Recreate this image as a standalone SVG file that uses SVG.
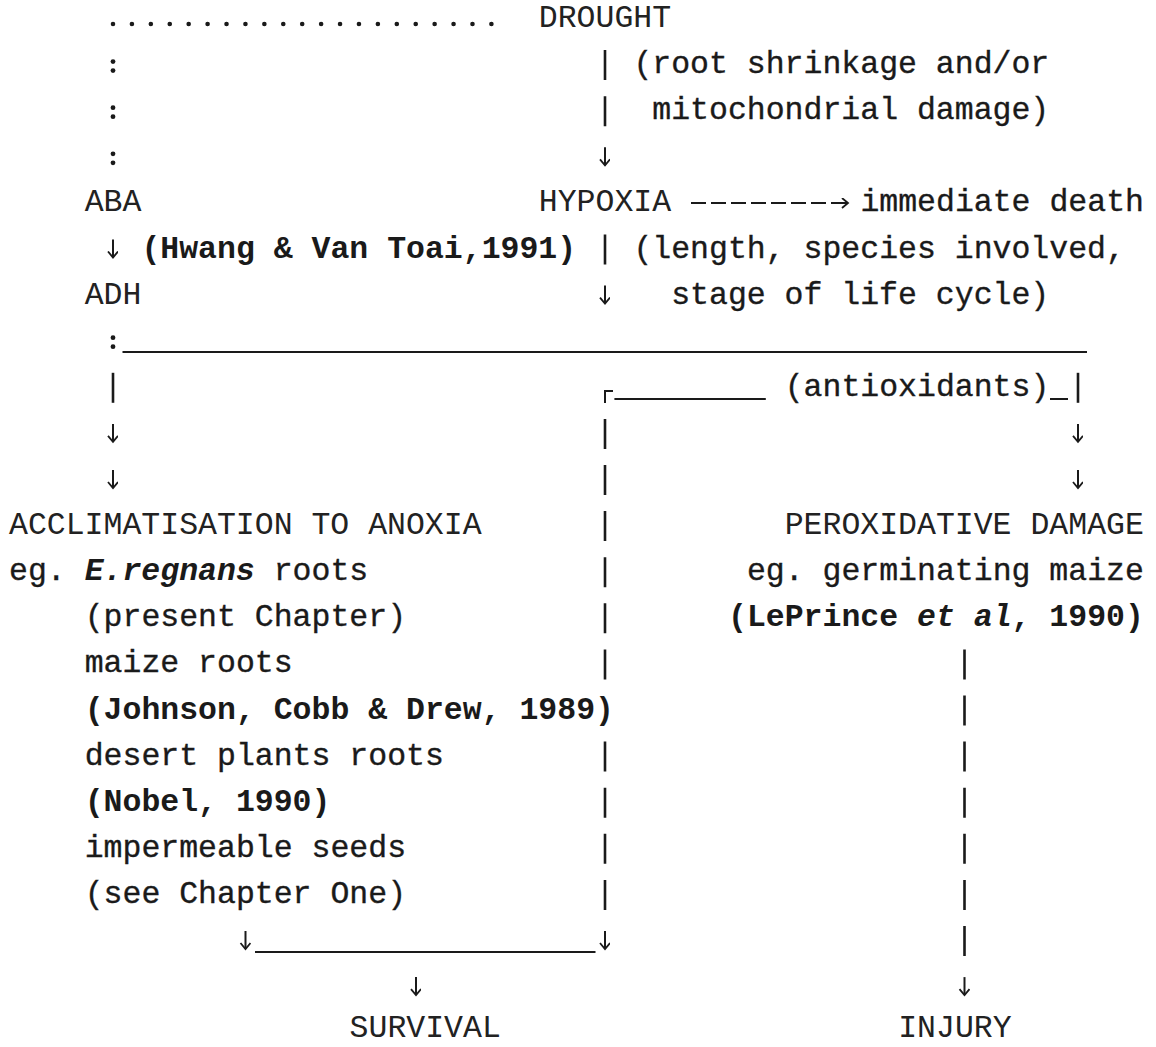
<svg xmlns="http://www.w3.org/2000/svg" width="1156" height="1047" viewBox="0 0 1156 1047">
<style>
.t{font-family:"Liberation Mono","Courier New",monospace;font-size:31.5px;fill:#1a1a1a;stroke:#1a1a1a;stroke-width:0.35;}
.cap{fill:#222;stroke-width:0;}
.b{font-weight:bold;stroke-width:0;}
.bi{font-weight:bold;font-style:italic;}
.bar{stroke:#1a1a1a;stroke-width:2.6;fill:none;}
.ln{stroke:#1a1a1a;stroke-width:2;fill:none;}
.arr{stroke:#1a1a1a;stroke-width:2;fill:none;marker-end:url(#ah);}
.dot{fill:#1a1a1a;}
</style>
<defs>
<marker id="ah" markerWidth="12" markerHeight="12" refX="7" refY="5" orient="auto" markerUnits="userSpaceOnUse">
<path d="M1,0 L7,5 L1,10" fill="none" stroke="#1a1a1a" stroke-width="1.8"/>
</marker>
</defs>
<rect width="1156" height="1047" fill="#ffffff"/>

<g id="connectors">
  <!-- dotted line from DROUGHT to ABA / ADH -->
  <line x1="113" y1="24" x2="491.5" y2="24" stroke="#1a1a1a" stroke-width="4.6" stroke-linecap="round" stroke-dasharray="0 18.92"/>
  <g class="dot">
    <circle cx="113" cy="61.6" r="2.4"/><circle cx="113" cy="70.6" r="2.4"/>
    <circle cx="113" cy="107.7" r="2.4"/><circle cx="113" cy="116.7" r="2.4"/>
    <circle cx="113" cy="153.8" r="2.4"/><circle cx="113" cy="162.8" r="2.4"/>
    <circle cx="113" cy="337.7" r="2.4"/><circle cx="113" cy="346.7" r="2.4"/>
  </g>
  <!-- central vertical (col 31) -->
  <path class="bar" d="M605,50.1V80.1 M605,96.2V126.2 M605,234.5V264.5"/>
  <path class="arr" d="M605,147.3V165.3"/>
  <path class="arr" d="M605,285.6V303.6"/>
  <!-- HYPOXIA to immediate death -->
  <line class="ln" x1="691" y1="203" x2="842" y2="203" stroke-dasharray="15 5"/>
  <path class="arr" d="M836,203H848"/>
  <!-- ABA to ADH -->
  <path class="arr" d="M113,239.5V257.5"/>
  <!-- long horizontal split line -->
  <line class="ln" x1="122.5" y1="352" x2="1087" y2="352"/>
  <!-- left branch -->
  <path class="bar" d="M113,372.8V402.8"/>
  <path class="arr" d="M113,423.9V441.9"/>
  <path class="arr" d="M113,470V488"/>
  <!-- antioxidants branch -->
  <path class="ln" d="M605,403V391H613"/>
  <line class="ln" x1="614.4" y1="399" x2="765.8" y2="399"/>
  <line class="ln" x1="1050" y1="399" x2="1068" y2="399"/>
  <path class="bar" d="M1078,372.8V402.8"/>
  <path class="arr" d="M1078,423.9V441.9"/>
  <path class="arr" d="M1078,470V488"/>
  <!-- middle vertical down to survival -->
  <path class="bar" d="M605,418.9V448.9 M605,465V495 M605,511.1V541.1 M605,557.2V587.2 M605,603.3V633.3 M605,649.4V679.4 M605,741.6V771.6 M605,787.7V817.7 M605,833.8V863.8 M605,879.9V909.9"/>
  <path class="arr" d="M605,931V949"/>
  <path class="arr" d="M245.5,931V949"/>
  <line class="ln" x1="255" y1="952" x2="595.5" y2="952"/>
  <path class="arr" d="M416,977.1V995.1"/>
  <!-- right vertical down to injury -->
  <path class="bar" d="M964.5,649.4V679.4 M964.5,695.5V725.5 M964.5,741.6V771.6 M964.5,787.7V817.7 M964.5,833.8V863.8 M964.5,879.9V909.9 M964.5,926V956"/>
  <path class="arr" d="M964.5,977.1V995.1"/>
</g>

<g id="drought"><text class="t cap" x="538.8" y="27">DROUGHT</text></g>
<g id="drought-note">
  <text class="t" x="633.4" y="73.1">(root shrinkage and/or</text>
  <text class="t" x="652.3" y="119.2">mitochondrial damage)</text>
</g>
<g id="aba"><text class="t cap" x="84.7" y="211.4">ABA</text></g>
<g id="hypoxia"><text class="t cap" x="538.8" y="211.4">HYPOXIA</text></g>
<g id="death"><text class="t" x="860.4" y="211.4">immediate death</text></g>
<g id="hwang"><text class="t b" x="141.4" y="257.5">(Hwang &amp; Van Toai,1991)</text></g>
<g id="hypoxia-note">
  <text class="t" x="633.4" y="257.5">(length, species involved,</text>
  <text class="t" x="671.2" y="303.6">stage of life cycle)</text>
</g>
<g id="adh"><text class="t cap" x="84.7" y="303.6">ADH</text></g>
<g id="antioxidants"><text class="t" x="784.7" y="395.8">(antioxidants)</text></g>
<g id="acclimatisation">
  <text class="t cap" x="9" y="534.1">ACCLIMATISATION TO ANOXIA</text>
  <text class="t" x="9" y="580.2">eg. <tspan class="bi" style="stroke-width:0">E.regnans</tspan> roots</text>
  <text class="t" x="84.7" y="626.3">(present Chapter)</text>
  <text class="t" x="84.7" y="672.4">maize roots</text>
  <text class="t b" x="84.7" y="718.5">(Johnson, Cobb &amp; Drew, 1989)</text>
  <text class="t" x="84.7" y="764.6">desert plants roots</text>
  <text class="t b" x="84.7" y="810.7">(Nobel, 1990)</text>
  <text class="t" x="84.7" y="856.8">impermeable seeds</text>
  <text class="t" x="84.7" y="902.9">(see Chapter One)</text>
</g>
<g id="peroxidative">
  <text class="t cap" x="784.7" y="534.1">PEROXIDATIVE DAMAGE</text>
  <text class="t" x="746.9" y="580.2">eg. germinating maize</text>
  <text class="t b" x="728" y="626.3">(LePrince <tspan class="bi">et al</tspan>, 1990)</text>
</g>
<g id="survival"><text class="t cap" x="349.6" y="1037">SURVIVAL</text></g>
<g id="injury"><text class="t cap" x="898.2" y="1037">INJURY</text></g>
</svg>
